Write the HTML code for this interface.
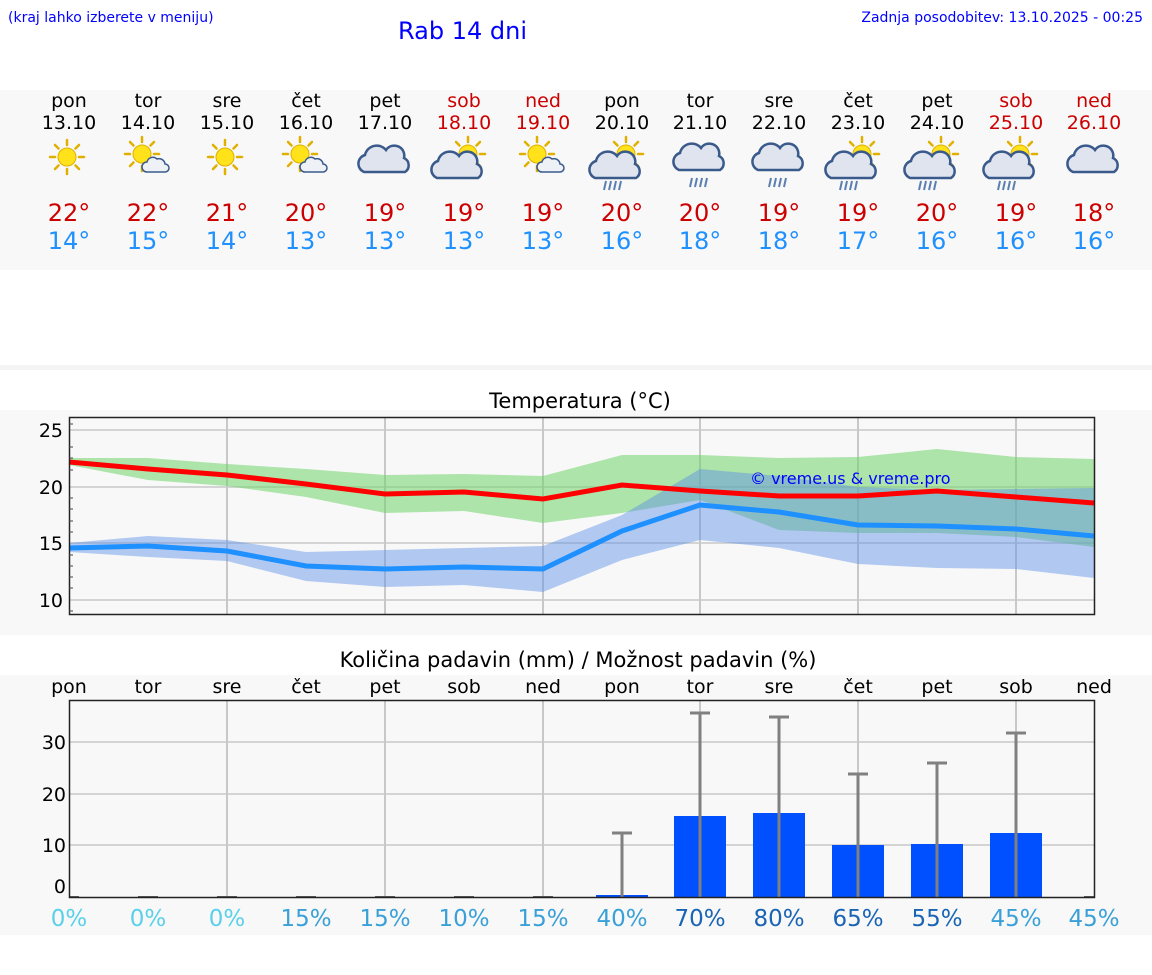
<!DOCTYPE html>
<html><head><meta charset="utf-8"><style>
html,body{margin:0;padding:0;background:#fff;}
svg{display:block;font-family:"DejaVu Sans","Liberation Sans",sans-serif;}
</style></head><body>
<svg width="1152" height="975" viewBox="0 0 1152 975" xmlns="http://www.w3.org/2000/svg">
<defs>
<g id="sun"><g stroke="#e0b000" stroke-width="2.5" stroke-linecap="round">
<line x1="0" y1="-17" x2="0" y2="-12"/><line x1="0" y1="17" x2="0" y2="12"/><line x1="-17" y1="0" x2="-12" y2="0"/><line x1="17" y1="0" x2="12" y2="0"/>
<line x1="-12" y1="-12" x2="-8.5" y2="-8.5"/><line x1="12" y1="12" x2="8.5" y2="8.5"/><line x1="-12" y1="12" x2="-8.5" y2="8.5"/><line x1="12" y1="-12" x2="8.5" y2="-8.5"/></g>
<circle r="9" fill="#ffe21a" stroke="#e0b000" stroke-width="1"/></g>
<g id="cloud"><path d="M-21,10 a9,9 0 0 1 1,-17 a12,12 0 0 1 21,-5 a10,10 0 0 1 18,8 a8,8 0 0 1 1,14 z" fill="#dfe4ee" stroke="#3a5a8c" stroke-width="2.5"/></g>
<g id="scloud"><path d="M-9,6 a5,5 0 0 1 0,-10 a6,6 0 0 1 10,-3 a6,6 0 0 1 8,5 a4,4 0 0 1 0,8 z" fill="#eef1f6" stroke="#3a5a8c" stroke-width="1.5"/></g>
<g id="rain" stroke="#5a7fb0" stroke-width="2"><line x1="-8" y1="0" x2="-10" y2="9"/><line x1="-3" y1="0" x2="-5" y2="9"/><line x1="2" y1="0" x2="0" y2="9"/><line x1="7" y1="0" x2="5" y2="9"/></g>
</defs>
<text x="8" y="22" font-size="14" fill="#0000ff">(kraj lahko izberete v meniju)</text>
<text x="398" y="39" font-size="24" fill="#0000ff">Rab 14 dni</text>
<text x="1143" y="22" font-size="14" fill="#0000ff" text-anchor="end">Zadnja posodobitev: 13.10.2025 - 00:25</text>
<rect x="0" y="90" width="1152" height="180" fill="#f8f8f8"/>
<g font-size="19" text-anchor="middle" fill="#000">
<text x="69" y="107">pon</text><text x="148" y="107">tor</text><text x="227" y="107">sre</text><text x="306" y="107">čet</text><text x="385" y="107">pet</text><text x="464" y="107" fill="#cc0000">sob</text><text x="543" y="107" fill="#cc0000">ned</text><text x="622" y="107">pon</text><text x="700" y="107">tor</text><text x="779" y="107">sre</text><text x="858" y="107">čet</text><text x="937" y="107">pet</text><text x="1016" y="107" fill="#cc0000">sob</text><text x="1094" y="107" fill="#cc0000">ned</text>
<text x="69" y="129">13.10</text><text x="148" y="129">14.10</text><text x="227" y="129">15.10</text><text x="306" y="129">16.10</text><text x="385" y="129">17.10</text><text x="464" y="129" fill="#cc0000">18.10</text><text x="543" y="129" fill="#cc0000">19.10</text><text x="622" y="129">20.10</text><text x="700" y="129">21.10</text><text x="779" y="129">22.10</text><text x="858" y="129">23.10</text><text x="937" y="129">24.10</text><text x="1016" y="129" fill="#cc0000">25.10</text><text x="1094" y="129" fill="#cc0000">26.10</text>
</g>
<use href="#sun" x="67" y="157"/>
<use href="#sun" x="142" y="154"/><use href="#scloud" x="156" y="166"/>
<use href="#sun" x="225" y="157"/>
<use href="#sun" x="300" y="154"/><use href="#scloud" x="314" y="166"/>
<use href="#cloud" x="385" y="162"/>
<use href="#sun" x="468" y="154"/><use href="#cloud" x="458" y="168"/>
<use href="#sun" x="537" y="154"/><use href="#scloud" x="551" y="166"/>
<use href="#sun" x="626" y="154"/><use href="#cloud" x="616" y="168"/><use href="#rain" x="614" y="181"/>
<use href="#cloud" x="700" y="160"/><use href="#rain" x="700" y="178"/>
<use href="#cloud" x="779" y="160"/><use href="#rain" x="779" y="178"/>
<use href="#sun" x="862" y="154"/><use href="#cloud" x="852" y="168"/><use href="#rain" x="850" y="181"/>
<use href="#sun" x="941" y="154"/><use href="#cloud" x="931" y="168"/><use href="#rain" x="929" y="181"/>
<use href="#sun" x="1020" y="154"/><use href="#cloud" x="1010" y="168"/><use href="#rain" x="1008" y="181"/>
<use href="#cloud" x="1094" y="162"/>
<g font-size="24" text-anchor="middle">
<g fill="#cc0000"><text x="69" y="221">22°</text><text x="148" y="221">22°</text><text x="227" y="221">21°</text><text x="306" y="221">20°</text><text x="385" y="221">19°</text><text x="464" y="221">19°</text><text x="543" y="221">19°</text><text x="622" y="221">20°</text><text x="700" y="221">20°</text><text x="779" y="221">19°</text><text x="858" y="221">19°</text><text x="937" y="221">20°</text><text x="1016" y="221">19°</text><text x="1094" y="221">18°</text></g>
<g fill="#1e90ff"><text x="69" y="249">14°</text><text x="148" y="249">15°</text><text x="227" y="249">14°</text><text x="306" y="249">13°</text><text x="385" y="249">13°</text><text x="464" y="249">13°</text><text x="543" y="249">13°</text><text x="622" y="249">16°</text><text x="700" y="249">18°</text><text x="779" y="249">18°</text><text x="858" y="249">17°</text><text x="937" y="249">16°</text><text x="1016" y="249">16°</text><text x="1094" y="249">16°</text></g>
</g>
<rect x="0" y="365" width="1152" height="5" fill="#f4f4f4"/>
<!-- Temperature -->
<rect x="0" y="410" width="1152" height="225" fill="#f8f8f8"/>
<text x="580" y="408" font-size="21" text-anchor="middle">Temperatura (°C)</text>
<g stroke="#d4d4d4" stroke-width="2">
<line x1="69" y1="430" x2="1094" y2="430"/><line x1="69" y1="487" x2="1094" y2="487"/><line x1="69" y1="543" x2="1094" y2="543"/><line x1="69" y1="600" x2="1094" y2="600"/>
</g>
<g stroke="#c8c8c8" stroke-width="2"><line x1="227" y1="417" x2="227" y2="614"/><line x1="385" y1="417" x2="385" y2="614"/><line x1="543" y1="417" x2="543" y2="614"/><line x1="700" y1="417" x2="700" y2="614"/><line x1="858" y1="417" x2="858" y2="614"/><line x1="1016" y1="417" x2="1016" y2="614"/></g>
<polygon fill="#6fd46a" fill-opacity="0.55" points="69,458 148,458 227,464 306,469 385,475 464,474 543,476 622,455 700,455 779,458 858,457 937,449 1016,457 1094,459 1094,547 1016,537 937,533 858,533 779,530 700,500 622,513 543,523 464,511 385,513 306,497 227,486 148,480 69,465"/>
<polygon fill="#5b8de8" fill-opacity="0.45" points="69,543 148,536 227,540 306,552 385,550 464,548 543,546 622,515 700,469 779,476 858,487 937,490 1016,489 1094,488 1094,578 1016,569 937,568 858,564 779,548 700,540 622,560 543,592 464,585 385,587 306,581 227,561 148,557 69,552"/>
<polyline fill="none" stroke="#ff0000" stroke-width="5" points="69,462 148,469 227,475 306,484 385,494 464,492 543,499 622,485 700,491 779,496 858,496 937,491 1016,497 1094,503"/>
<polyline fill="none" stroke="#1e90ff" stroke-width="5" points="69,548 148,546 227,551 306,566 385,569 464,567 543,569 622,531 700,505 779,512 858,525 937,526 1016,529 1094,536"/>
<text x="750" y="484" font-size="16" fill="#0000ff">© vreme.us &amp; vreme.pro</text>
<rect x="69.5" y="417.5" width="1025" height="197" fill="none" stroke="#222" stroke-width="1.5"/>
<g stroke="#444" stroke-width="1"><line x1="69" y1="424" x2="73" y2="424"/><line x1="69" y1="447" x2="73" y2="447"/><line x1="69" y1="458" x2="73" y2="458"/><line x1="69" y1="470" x2="73" y2="470"/><line x1="69" y1="498" x2="73" y2="498"/><line x1="69" y1="509" x2="73" y2="509"/><line x1="69" y1="521" x2="73" y2="521"/><line x1="69" y1="532" x2="73" y2="532"/><line x1="69" y1="555" x2="73" y2="555"/><line x1="69" y1="566" x2="73" y2="566"/><line x1="69" y1="577" x2="73" y2="577"/><line x1="69" y1="588" x2="73" y2="588"/><line x1="69" y1="611" x2="73" y2="611"/></g>
<g font-size="19" text-anchor="end"><text x="63" y="437">25</text><text x="63" y="494">20</text><text x="63" y="550">15</text><text x="63" y="607">10</text></g>
<!-- Precip -->
<text x="578" y="667" font-size="21" text-anchor="middle">Količina padavin (mm) / Možnost padavin (%)</text>
<rect x="0" y="675" width="1152" height="260" fill="#f8f8f8"/>
<g font-size="19" text-anchor="middle">
<text x="69" y="693">pon</text><text x="148" y="693">tor</text><text x="227" y="693">sre</text><text x="306" y="693">čet</text><text x="385" y="693">pet</text><text x="464" y="693">sob</text><text x="543" y="693">ned</text><text x="622" y="693">pon</text><text x="700" y="693">tor</text><text x="779" y="693">sre</text><text x="858" y="693">čet</text><text x="937" y="693">pet</text><text x="1016" y="693">sob</text><text x="1094" y="693">ned</text>
</g>
<g stroke="#d4d4d4" stroke-width="2"><line x1="69" y1="742" x2="1094" y2="742"/><line x1="69" y1="794" x2="1094" y2="794"/><line x1="69" y1="845" x2="1094" y2="845"/></g>
<g stroke="#c8c8c8" stroke-width="2"><line x1="227" y1="700" x2="227" y2="897"/><line x1="385" y1="700" x2="385" y2="897"/><line x1="543" y1="700" x2="543" y2="897"/><line x1="700" y1="700" x2="700" y2="897"/><line x1="858" y1="700" x2="858" y2="897"/><line x1="1016" y1="700" x2="1016" y2="897"/></g>
<g fill="#0050ff"><rect x="596" y="895" width="52" height="2"/><rect x="674" y="816" width="52" height="81"/><rect x="753" y="813" width="52" height="84"/><rect x="832" y="845" width="52" height="52"/><rect x="911" y="844" width="52" height="53"/><rect x="990" y="833" width="52" height="64"/></g>
<g stroke="#808080" stroke-width="3">
<line x1="622" y1="833" x2="622" y2="897"/><line x1="612" y1="833" x2="632" y2="833"/>
<line x1="700" y1="713" x2="700" y2="897"/><line x1="690" y1="713" x2="710" y2="713"/>
<line x1="779" y1="717" x2="779" y2="897"/><line x1="769" y1="717" x2="789" y2="717"/>
<line x1="858" y1="774" x2="858" y2="897"/><line x1="848" y1="774" x2="868" y2="774"/>
<line x1="937" y1="763" x2="937" y2="897"/><line x1="927" y1="763" x2="947" y2="763"/>
<line x1="1016" y1="733" x2="1016" y2="897"/><line x1="1006" y1="733" x2="1026" y2="733"/>
</g>
<g stroke="#606060" stroke-width="2"><line x1="69" y1="897" x2="79" y2="897"/><line x1="138" y1="897" x2="158" y2="897"/><line x1="217" y1="897" x2="237" y2="897"/><line x1="296" y1="897" x2="316" y2="897"/><line x1="375" y1="897" x2="395" y2="897"/><line x1="454" y1="897" x2="474" y2="897"/><line x1="533" y1="897" x2="553" y2="897"/><line x1="1084" y1="897" x2="1094" y2="897"/></g>
<rect x="69.5" y="700.5" width="1025" height="197" fill="none" stroke="#222" stroke-width="1.5"/>
<g font-size="19" text-anchor="end"><text x="66" y="749">30</text><text x="66" y="801">20</text><text x="66" y="852">10</text><text x="66" y="893">0</text></g>
<g font-size="23" text-anchor="middle">
<g fill="#5ad0ea"><text x="69" y="926">0%</text><text x="148" y="926">0%</text><text x="227" y="926">0%</text></g>
<g fill="#3aa0d8"><text x="306" y="926">15%</text><text x="385" y="926">15%</text><text x="464" y="926">10%</text><text x="543" y="926">15%</text><text x="622" y="926">40%</text><text x="1016" y="926">45%</text><text x="1094" y="926">45%</text></g>
<g fill="#1a64b4"><text x="700" y="926">70%</text><text x="779" y="926">80%</text><text x="858" y="926">65%</text><text x="937" y="926">55%</text></g>
</g>
</svg>
</body></html>
